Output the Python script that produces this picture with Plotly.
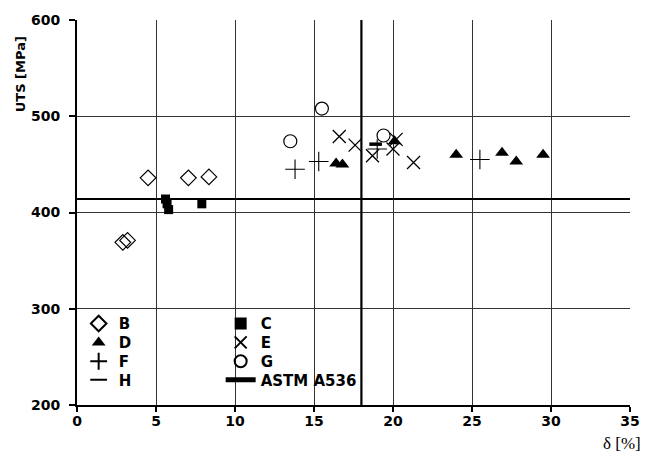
import plotly.graph_objects as go

# ---- data ----
b_elong = [2.9, 3.2, 4.5, 7.05, 8.35]
b_uts = [369, 371, 436, 436, 437]

c_elong = [5.6, 5.7, 5.8, 7.9]
c_uts = [414, 409, 403, 409]

d_elong = [16.4, 16.8, 20.1, 24.0, 26.9, 27.8, 29.5]
d_uts = [451, 450, 474, 460, 462, 453, 460]

e_elong = [16.6, 17.6, 18.7, 20.0, 20.2, 21.3]
e_uts = [479, 470, 459, 466, 476, 452]

f_elong = [13.8, 15.3, 19.0, 25.5]
f_uts = [445, 453, 466, 455]

g_elong = [13.5, 15.5, 19.4]
g_uts = [474, 508, 480]

h_elong = [18.9]
h_uts = [471]

astm_uts = 414      # MPa minimum tensile strength
astm_elong = 18     # % minimum elongation

x_ticks = [0, 5, 10, 15, 20, 25, 30, 35]
y_ticks = [200, 300, 400, 500, 600]

FONT = "DejaVu Sans"
fig = go.Figure()

def add(name, xs, ys, symbol, size, lw, legend):
    fig.add_trace(go.Scatter(
        x=xs, y=ys, mode="markers", name=name, legend=legend,
        marker=dict(symbol=symbol, size=size, color="black",
                    line=dict(color="black", width=lw)),
    ))

# one horizontal legend per row: (B, C), (D, E), (F, G), (H, ASTM)
add("B", b_elong, b_uts, "diamond-open", 12, 1.2, "legend")
add("C", c_elong, c_uts, "square", 9, 0, "legend")
add("D", d_elong, d_uts, "triangle-up", 12, 0, "legend2")
add("E", e_elong, e_uts, "x-thin-open", 13, 1.3, "legend2")
add("F", f_elong, f_uts, "cross-thin-open", 14, 1.1, "legend3")
add("G", g_elong, g_uts, "circle-open", 13, 1.2, "legend3")
add("H", h_elong, h_uts, "line-ew-open", 9, 3.5, "legend4")

fig.add_trace(go.Scatter(
    x=[x_ticks[0], x_ticks[-1], None, astm_elong, astm_elong],
    y=[astm_uts, astm_uts, None, y_ticks[0], y_ticks[-1]],
    mode="lines", name="ASTM A536", legend="legend4",
    line=dict(color="black", width=2.2),
))

legend_common = dict(
    font=dict(family=FONT, size=15, color="black", weight="bold"),
    bgcolor="rgba(0,0,0,0)", borderwidth=0, tracegroupgap=0,
    yanchor="middle", xanchor="left", itemsizing="constant",
    orientation="h", entrywidth=97, entrywidthmode="pixels",
)

row_y = [0.211, 0.162, 0.113, 0.065]

fig.update_layout(
    width=652, height=459,
    margin=dict(l=77, r=19, t=16, b=54),
    paper_bgcolor="white", plot_bgcolor="white",
    font=dict(family=FONT, size=14, color="black"),
    showlegend=True,
    legend=dict(x=0.003, y=row_y[0], **legend_common),
    legend2=dict(x=0.003, y=row_y[1], **legend_common),
    legend3=dict(x=0.003, y=row_y[2], **legend_common),
    legend4=dict(x=0.003, y=row_y[3], **legend_common),
    xaxis=dict(
        range=[0, 35], tickvals=x_ticks, ticktext=[str(v) for v in x_ticks],
        showgrid=True, gridcolor="#333333", gridwidth=1,
        showline=True, linecolor="black", linewidth=2,
        ticks="outside", ticklen=5, tickcolor="black", tickwidth=1.5,
        ticklabelstandoff=-3,
        tickfont=dict(family=FONT, size=14, color="black", weight="bold"),
        zeroline=False,
    ),
    yaxis=dict(
        range=[200, 600], tickvals=y_ticks,
        showgrid=True, gridcolor="#333333", gridwidth=1,
        showline=True, linecolor="black", linewidth=2,
        ticks="outside", ticklen=6, tickcolor="black", tickwidth=1.5,
        ticklabelstandoff=6,
        tickfont=dict(family=FONT, size=14, color="black", weight="bold"),
        zeroline=False,
    ),
    annotations=[
        dict(text="UTS [MPa]", xref="paper", yref="paper", x=-0.102, y=0.962,
             xanchor="center", yanchor="top", textangle=-90, showarrow=False,
             font=dict(family=FONT, size=13, color="black", weight="bold")),
        dict(text="δ [%]", xref="paper", yref="paper", x=0.985, y=-0.07,
             xanchor="center", yanchor="top", showarrow=False,
             font=dict(family="Liberation Serif", size=17, color="black")),
    ],
)

fig.write_html(
    "out.html",
    config={"displayModeBar": False},
    post_script="document.body.style.margin='0';document.body.style.overflow='hidden';",
)
